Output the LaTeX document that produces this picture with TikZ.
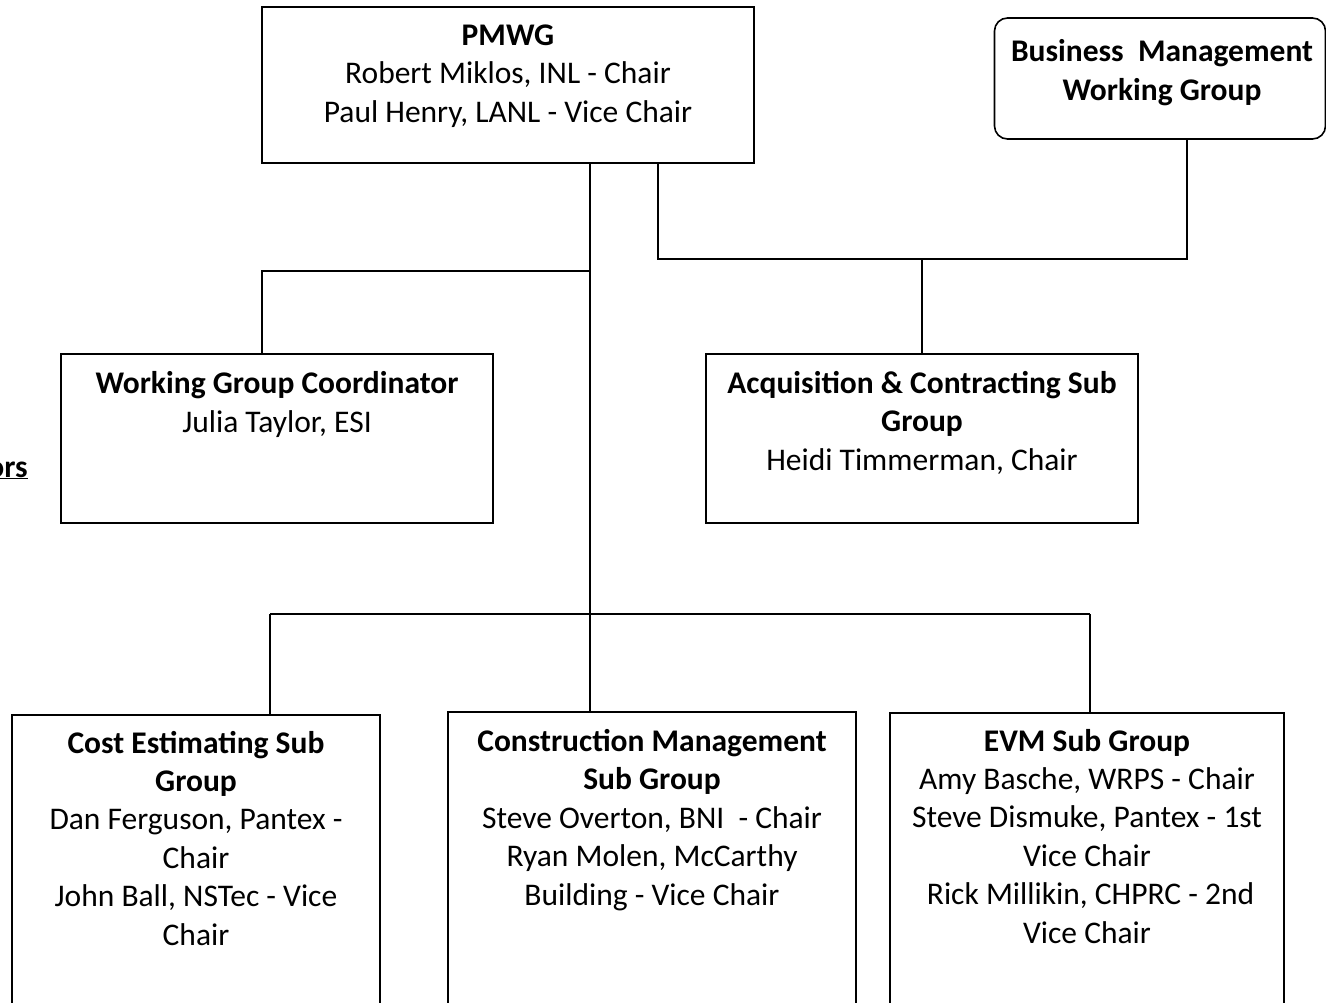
\documentclass[tikz,border=0pt]{standalone}
\usepackage{fontspec}
\setmainfont{Carlito}
\begin{document}
\begin{tikzpicture}[x=1pt,y=-1pt,
  box/.style={draw=black,line width=1.6pt,inner sep=0pt,fill=none},
  rbox/.style={box,rounded corners=13pt},
  txt/.style={align=center,inner sep=0pt,anchor=base,font=\fontsize{31.5}{38.4}\selectfont},
  conn/.style={draw=black,line width=1.6pt}]
\clip (0,0) rectangle (1326,1002);
\fill[white] (0,0) rectangle (1326,1002);
% boxes
\node[box,minimum width=492pt,minimum height=156pt] (pmwg) at (508,85) {};
\node[rbox,minimum width=331pt,minimum height=121pt] (bm) at (1160,78.5) {};
\node[box,minimum width=432pt,minimum height=169pt] (wgc) at (277,438.5) {};
\node[box,minimum width=432pt,minimum height=169pt] (acq) at (922,438.5) {};
\node[box,minimum width=368pt,minimum height=300pt] (cost) at (196,865) {};
\node[box,minimum width=408pt,minimum height=303pt] (cons) at (652,863.5) {};
\node[box,minimum width=394pt,minimum height=302pt] (evm) at (1087,864) {};
% texts (base anchor = baseline of the last line)
\node[txt] (pmwgT) at (508,122) {\textbf{PMWG}\\Robert Miklos, INL - Chair\\Paul Henry, LANL - Vice Chair};
\node[txt] (bmT) at (1162,100) {\textbf{Business\ \ Management}\\\textbf{Working Group}};
\node[txt] (wgcT) at (277,432) {\textbf{Working Group Coordinator}\\Julia Taylor, ESI};
\node[txt] (acqT) at (922,470) {\textbf{Acquisition \& Contracting Sub}\\\textbf{Group}\\Heidi Timmerman, Chair};
\node[txt] (costT) at (196,945) {\textbf{Cost Estimating Sub}\\\textbf{Group}\\Dan Ferguson, Pantex -\\Chair\\John Ball, NSTec - Vice\\Chair};
\node[txt] (consT) at (652,905) {\textbf{Construction Management}\\\textbf{Sub Group}\\Steve Overton, BNI\ \ - Chair\\Ryan Molen, McCarthy\\Building - Vice Chair};
\node[txt] (evmT) at (1087,943) {\textbf{EVM Sub Group}\\Amy Basche, WRPS - Chair\\Steve Dismuke, Pantex - 1st\\Vice Chair\\\ Rick Millikin, CHPRC - 2nd\\Vice Chair};
\node[txt,anchor=base east] (ors) at (28,477) {\underline{\textbf{ors}}};
% junctions
\coordinate (j1) at (590,271);
\coordinate (j2) at (590,614);
\coordinate (wgcA) at (262,271);
\coordinate (k1) at (658,259);
\coordinate (k2) at (922,259);
\coordinate (k3) at (1187,259);
\coordinate (b1) at (270,614);
\coordinate (b3) at (1090,614);
% connectors
\draw[conn] (pmwg.south -| j1) -- (j2);
\draw[conn] (j1) -- (wgcA) -- (wgcA |- wgc.north);
\draw[conn] (pmwg.south -| k1) -- (k1) -- (k3) -- (k3 |- bm.south);
\draw[conn] (k2) -- (acq.north);
\draw[conn] (b1) -- (b3);
\draw[conn] (b1) -- (b1 |- cost.north);
\draw[conn] (j2) -- (j2 |- cons.north);
\draw[conn] (b3) -- (b3 |- evm.north);
\end{tikzpicture}
\end{document}
